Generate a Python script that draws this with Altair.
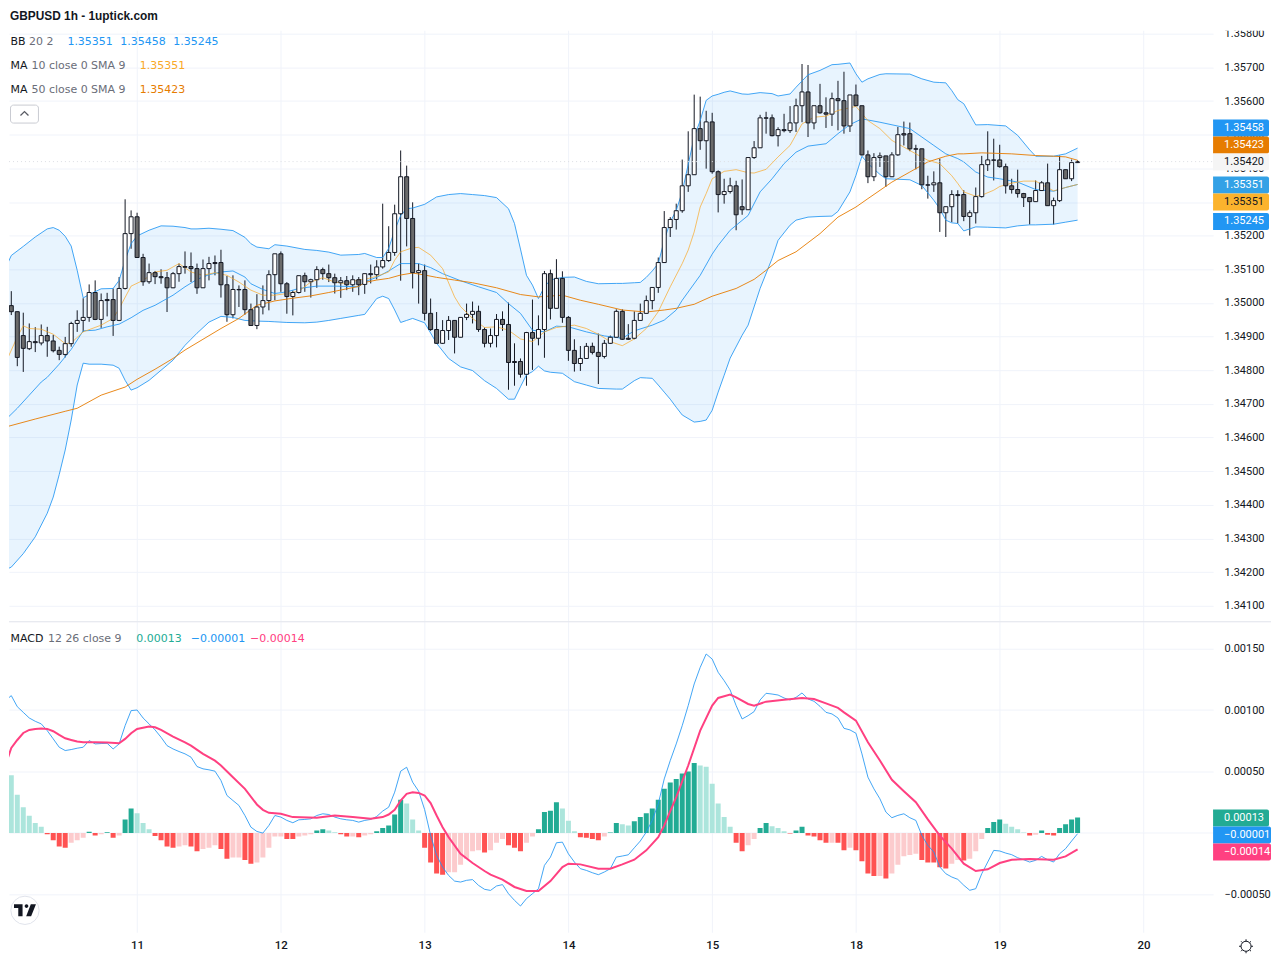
import altair as alt
import pandas as pd

# ---------- candles, prices in 1e-5 units, one row per hour ----------
opens = [
134950,134992,134974,134903,134864,134885,134881,134903,134887,134859,
134847,134879,134939,134948,134957,135031,134951,135010,135010,134948,
135043,135206,135256,135135,135063,135090,135078,135075,135045,135087,
135108,135108,135102,135045,135102,135120,135120,135054,134965,135040,
135040,134980,134933,134988,135007,135084,135146,135057,135019,135031,
135081,135063,135069,135099,135087,135075,135060,135066,135054,135069,
135055,135087,135084,135107,135126,135150,135265,135375,135251,135090,
135096,134969,134921,134880,134918,134948,134898,134957,134966,134975,
134921,134880,134903,134951,134936,134826,134826,134788,134912,134895,
134921,135087,134984,135073,134957,134859,134820,134835,134871,134853,
134841,134880,134898,134975,134895,134895,134948,134969,135007,135046,
135120,135224,135248,135274,135348,135381,135518,135482,135538,135390,
135322,135331,135348,135286,135277,135432,135461,135550,135550,135497,
135515,135512,135535,135586,135627,135535,135586,135565,135561,135607,
135601,135526,135618,135586,135440,135375,135432,135437,135375,135440,
135503,135503,135458,135458,135351,135351,135357,135268,135286,135322,
135322,135257,135268,135316,135411,135425,135425,135405,135348,135337,
135325,135313,135301,135334,135357,135289,135304,135396,135369,135417]
highs = [
135005,135035,134974,134971,134939,134928,134936,134929,134905,134870,
134899,134944,134978,135014,135055,135067,135028,135030,135043,135077,
135308,135275,135268,135146,135117,135095,135100,135092,135092,135117,
135153,135150,135117,135129,135137,135141,135158,135080,135082,135052,
135067,134998,135026,135052,135097,135146,135153,135062,135037,135081,
135090,135072,135109,135105,135114,135087,135077,135080,135082,135077,
135087,135114,135127,135295,135228,135292,135453,135408,135299,135117,
135114,135013,134973,134949,134961,134948,134957,134998,135004,134992,
134927,134924,134967,134975,135001,134880,134835,134914,135010,134963,
135095,135099,135130,135094,134961,134892,134872,134881,134882,134909,
134890,134903,134981,134981,134937,134975,134998,135022,135046,135135,
135273,135255,135295,135426,135510,135619,135613,135571,135565,135394,
135369,135372,135363,135367,135432,135481,135559,135568,135560,135522,
135562,135585,135607,135710,135707,135586,135651,135611,135625,135660,
135687,135618,135649,135586,135453,135445,135447,135437,135448,135523,
135539,135536,135470,135458,135378,135391,135429,135286,135335,135335,
135335,135275,135343,135437,135510,135488,135470,135414,135369,135396,
135327,135313,135364,135362,135414,135313,135438,135396,135426,135424]
lows = [
134917,134964,134812,134795,134860,134854,134874,134840,134853,134830,
134838,134870,134914,134914,134944,134949,134926,134960,134902,134946,
135040,135161,135135,135051,135057,135056,135057,134973,135044,135063,
135087,135062,135027,135045,135067,135082,135016,134944,134954,134988,
134965,134933,134922,134966,134978,135008,135033,134968,134963,135028,
135033,135016,135045,135069,135062,135028,135015,135038,135033,135023,
135027,135058,135070,135102,135122,135140,135066,135168,135043,134998,
134948,134917,134878,134878,134890,134850,134898,134949,134939,134914,
134868,134868,134868,134917,134742,134754,134778,134754,134801,134874,
134837,134951,134984,134941,134828,134796,134798,134835,134847,134759,
134835,134878,134898,134890,134890,134892,134948,134969,134981,135030,
135120,135196,135218,135268,135330,135381,135455,135399,135384,135269,
135295,135325,135216,135262,135277,135428,135461,135503,135495,135465,
135507,135505,135508,135537,135493,135516,135562,135520,135526,135513,
135503,135508,135586,135438,135356,135362,135404,135345,135374,135437,
135468,135451,135397,135338,135310,135330,135211,135196,135240,135236,
135243,135200,135236,135313,135392,135364,135402,135325,135325,135313,
135285,135233,135301,135333,135289,135233,135300,135369,135362,135416]
closes = [
134992,134974,134838,134865,134885,134882,134903,134887,134858,134847,
134879,134939,134948,134957,135031,134951,135007,135007,134948,135043,
135206,135256,135135,135063,135090,135078,135075,135045,135087,135108,
135106,135102,135045,135102,135117,135117,135054,134965,135040,135039,
134980,134933,134988,135007,135084,135146,135057,135019,135031,135081,
135063,135069,135099,135087,135075,135060,135066,135054,135069,135054,
135087,135084,135107,135126,135150,135265,135375,135251,135090,135096,
134969,134921,134880,134918,134948,134898,134957,134966,134975,134921,
134880,134903,134951,134936,134823,134823,134788,134912,134895,134921,
135087,134984,135073,134957,134859,134820,134835,134871,134853,134841,
134880,134898,134975,134892,134892,134948,134969,135007,135046,135120,
135224,135248,135274,135348,135381,135518,135482,135538,135390,135322,
135331,135348,135262,135277,135432,135461,135550,135549,135497,135515,
135512,135535,135586,135627,135535,135586,135565,135561,135607,135601,
135526,135618,135586,135440,135375,135432,135437,135375,135440,135500,
135499,135458,135457,135351,135350,135357,135268,135286,135322,135319,
135257,135268,135316,135411,135425,135424,135405,135348,135337,135325,
135313,135301,135334,135357,135289,135304,135396,135369,135417,135420]

# ---------- Bollinger bands ----------
bb_k = [0,1,3,5,7,8,9,10,11,12,13,14,16,18,19,20,21,22,24,26,28,30,31,32,34,36,38,40,41,42,44,45,47,50,52,54,56,59,
        60,62,63,64,65,66,67,68,70,72,74,76,78,80,82,84,85,86,87,88,89,90,91,93,95,97,99,102,103,105,106,107,108,109,
        110,111,112,113,115,116,117,118,119,120,121,123,124,126,128,129,131,132,134,136,138,139,141,142,143,144,146,147,
        151,153,155,156,157,158,159,160,162,164,167,169,171,172,175,177,179]
bb_upper = [135102,135141,135168,135196,135220,135224,135216,135198,135169,135097,135015,135025,135042,135043,135067,135127,135176,135199,135216,135229,135228,135224,135220,135220,135222,135219,135215,135195,135176,135166,135161,135173,135169,135159,135156,135151,135142,135144,
            135147,135135,135135,135162,135216,135260,135280,135282,135293,135315,135322,135325,135322,135319,135313,135280,135236,135160,135082,135053,135013,135048,135068,135076,135077,135064,135057,135058,135058,135060,135061,135076,135095,135117,
            135186,135241,135275,135330,135493,135542,135602,135615,135620,135626,135630,135621,135620,135625,135622,135615,135621,135641,135678,135691,135708,135709,135713,135681,135656,135666,135679,135681,
            135680,135666,135656,135655,135654,135631,135604,135592,135529,135530,135526,135498,135455,135436,135436,135443,135460]
bb_lower = [134207,134215,134255,134305,134375,134423,134490,134563,134652,134756,134821,134818,134818,134815,134806,134770,134741,134748,134770,134800,134830,134874,134892,134910,134943,134960,134957,134948,134947,134946,134945,134944,134942,134941,134943,134948,134954,134963,
            134966,135013,135020,135013,134979,134942,134948,134954,134941,134880,134835,134810,134799,134769,134746,134714,134714,134751,134786,134796,134812,134798,134794,134791,134766,134756,134746,134744,134744,134769,134778,134777,134776,134756,
            134735,134714,134690,134667,134646,134648,134652,134681,134735,134785,134836,134904,134934,135043,135132,135186,135231,135246,135255,135257,135258,135272,135330,135379,135436,135414,135382,135369,
            135366,135349,135305,135280,135246,135238,135236,135214,135226,135225,135223,135229,135232,135232,135234,135240,135246]
basis_k = [0,2,4,6,7,9,11,13,15,17,19,21,23,25,28,30,32,34,36,38,40,41,43,45,47,49,52,55,59,60,62,64,66,69,71,73,76,79,82,84,86,88,90,92,94,97,100,103,105,108,110,112,113,116,118,119,121,124,126,128,130,132,134,137,139,141,143,146,151,153,155,157,159,160,162,164,166,169,172,175,177,179]
basis = [134652,134687,134726,134765,134779,134818,134862,134917,134919,134929,134937,134956,134978,134993,135023,135048,135070,135084,135092,135095,135077,135057,135040,135028,135033,135043,135050,135050,135048,135063,135076,135095,135117,135117,135105,135087,135066,135048,135031,134998,134969,134919,134914,134931,134929,134914,134902,134895,134917,134934,134949,134979,135008,135082,135145,135171,135216,135260,135330,135369,135414,135448,135466,135473,135503,135530,135547,135537,135518,135493,135468,135443,135429,135419,135389,135374,135369,135359,135337,135332,135343,135352]

# ---------- moving averages ----------
ma10_k = [0,2,3,4,6,8,10,11,13,16,18,19,21,23,25,27,29,31,33,35,37,39,41,43,45,47,49,51,53,55,57,59,60,62,64,65,66,68,69,71,73,75,76,78,80,82,84,86,88,90,92,95,97,99,101,103,105,107,109,111,113,114,115,116,117,118,120,122,124,125,127,129,131,133,135,137,139,141,142,144,146,148,150,152,154,156,158,159,160,162,163,165,166,168,170,172,173,175,177,179]
ma10 = [134820,134899,134932,134924,134922,134907,134879,134881,134914,134934,134954,134983,135050,135067,135092,135097,135117,135092,135082,135090,135082,135062,135038,135023,135023,135028,135035,135062,135075,135062,135057,135069,135070,135079,135092,135127,135152,135164,135165,135142,135102,135018,134989,134954,134927,134929,134919,134893,134885,134914,134927,134934,134924,134907,134885,134873,134893,134924,134974,135048,135117,135157,135211,135285,135325,135369,135391,135396,135387,135386,135397,135434,135468,135532,135552,135555,135572,135580,135584,135542,135518,135483,135463,135443,135424,135414,135378,135355,135330,135317,135320,135335,135346,135356,135362,135362,135352,135333,135343,135352]
ma50_k = [0,5,10,12,16,20,22,25,28,30,33,36,39,42,45,48,51,54,57,59,60,62,64,66,68,70,72,75,78,82,86,89,93,96,99,103,107,110,112,115,118,122,125,127,129,132,136,139,142,144,148,151,154,157,159,160,163,168,172,175,177,179]
ma50 = [134631,134655,134678,134687,134726,134750,134773,134803,134835,134860,134892,134924,134954,134993,135006,135014,135021,135031,135042,135049,135061,135068,135073,135083,135089,135083,135076,135068,135060,135045,135025,135018,135023,135008,134996,134979,134973,134979,134984,134996,135020,135043,135070,135097,135126,135152,135206,135255,135285,135310,135359,135389,135419,135436,135443,135443,135446,135443,135438,135436,135434,135424]

# ---------- MACD, in 1e-5 units ----------
macd = [107.7,111.8,102.8,98.2,93.6,90.9,88.8,83.3,76.6,69.8,67.1,67.9,69,69.8,75.2,72.5,72.8,73,68.4,72.5,
        87.4,99.6,100.1,93.6,88.8,83.9,77.9,71.1,68.4,66.3,64.4,61.7,54.1,52.2,51.4,50.3,42.7,30.5,26.4,22.4,
        14.2,4.7,1.2,-0.1,6.1,14.2,12.9,10.2,8.3,10.7,11,11.5,14.2,15.6,15,12.9,11.5,10.7,10.2,8.8,
        10.2,11,13.4,17.8,21,33.2,50.3,53.5,41.3,34,19,-2,-18.3,-27.8,-34.6,-39.2,-40,-38.6,-38,-42.7,
        -45.9,-46.8,-43.2,-42.1,-49.5,-54.9,-59.5,-53.5,-49.5,-45.4,-26.4,-19.7,-8,-7.5,-17,-23.7,-29.1,-30.5,-32.4,-34,
        -31.8,-29.1,-19.7,-18.8,-17.8,-12.1,-6.6,0.7,10.2,23.7,44,58.9,72.5,87.4,103.7,121.3,134.8,145.7,141.6,130.8,
        124,116.4,103.7,92.8,95.5,98.8,108.3,113.7,113.1,112.3,109.9,108.3,110.4,114,109.1,107.2,103.1,98.2,96.9,93.6,
        85.2,83.9,81.2,64.4,45.4,35.9,27.8,17,12.4,14.3,15.6,12.4,10.2,-2,-10.1,-15.5,-27.7,-33.2,-35.9,-37.8,
        -42.6,-46.7,-45.4,-33.2,-23.7,-14.2,-14.7,-16.4,-17.7,-20.2,-21.8,-23.7,-22.3,-19.1,-21.8,-23.7,-16.9,-12.8,-6.6,-0.6]
signal_k = [0,1,2,3,4,5,6,7,8,9,10,11,12,13,15,17,19,20,21,22,24,25,26,28,30,31,33,35,36,38,40,42,43,44,46,48,52,55,58,61,63,64,65,66,67,68,69,70,
            71,72,73,74,76,78,80,81,83,85,87,89,91,93,94,96,99,101,103,105,107,109,110,112,114,116,118,119,121,122,124,125,127,130,133,135,137,139,140,
            142,144,146,148,150,152,154,156,158,160,162,164,166,168,171,175,177,179]
signal = [54.9,69.2,75.7,81.4,83.9,84.7,85,84.7,82.8,79.8,77.1,75.7,74.4,73.8,73.8,73.6,73,76.6,81.2,84.7,86.6,86,83.9,78.5,73.8,71.1,64.4,58.9,54.9,45.4,35.9,23.2,18.8,16.4,15.6,12.9,12.3,14.2,12.9,11.5,12.9,15,18.8,26.4,31.8,33.2,32.6,30.5,
          24.3,14.2,4.7,-3.4,-17,-24.5,-31,-34,-38,-44,-47.3,-47.3,-39.2,-27.8,-25,-25.6,-29.1,-29.1,-25.6,-21.8,-14.2,-3.4,6.1,29.1,54.9,83.3,103.7,109.9,112.6,110.4,105,103.7,106.9,108.5,109.9,109.1,105.5,101.8,98.2,
          91.5,73.9,59,43.3,34,25,11,-2.2,-12.8,-25,-31,-29.6,-24.5,-21.8,-21.2,-21.8,-19.1,-13.4]
hist = [52,47,31,21,14,8,5,-1,-6,-11,-12,-8,-6,-4,1,-2,-1,0.5,-4,-2,
        11,20,16,8,3,-2.5,-6,-11,-12,-11,-10,-11,-15,-13,-12,-10,-13,-21,-20,-20,
        -22,-25,-24,-20,-12,-3,-3,-5,-5,-3,-2,-1,2,3,2,0.5,-1,-3,-3,-3.5,
        -2,-1,1.4,4,6,15,27,24,11,2,-12,-24,-33,-34,-32,-32,-26,-21,-15,-14,
        -16,-14,-8,-5,-10,-12,-15,-8,-3,3,17,18,25,20,10,1.4,-3.5,-4,-5,-6,
        -3,0.3,8,7,6,9.5,13,16,20,27,36,41,44,48.5,50,57,55,54,40,24,
        13,5,-8,-15,-10,-5,4,8,5.5,4,1.4,-0.5,2,5,-2,-3,-6,-8,-8,-8,
        -14,-12,-14,-23,-33,-35,-35,-37,-33,-26,-19,-18,-17,-22,-24,-24,-28,-29,-25,-22,
        -22.5,-21,-15,-5,4,9,11,7.5,5,3,0.3,-2,-1.4,2,-1.4,-2,4,7,11,12.5]
hist_shade = list("ggggggg" "RRRR" "rrr" "G" "R" "r" "G" "R" "r" "GG" "ggg" "RRRR" "rr" "RR" "rrr" "RR" "rr" "RR" "rrrrr"
                  "RR" "rrr" "GG" "gg" "RR" "r" "R" "rr" "GGGGG" "ggg" "RRRR" "rrrrrr" "R" "rrr" "RRR" "rr" "GGGG" "ggg"
                  "RRRR" "r" "GG" "gg" "GGGGGGGGGGG" "gggggg" "RR" "rr" "GG" "ggg" "R" "GG" "RRRR" "r" "RR" "r" "RRRR" "r"
                  "R" "rrrrr" "RRRRR" "rr" "R" "rrr" "GGG" "gggg" "R" "r" "G" "RR" "GGGG")

# ---------- axes and tags ----------
price_ticks = [1.341,1.342,1.343,1.344,1.345,1.346,1.347,1.348,1.349,1.350,1.351,1.352,1.353,1.354,1.355,1.356,1.357,1.358]
macd_ticks = [0.0015,0.001,0.0005,0,-0.0005]
day_ticks = [22,46,70,94,118,142,166,190]
day_labels = [11,12,13,14,15,18,19,20]
last_price = 1.35420
price_tags = ["1.35458","1.35423","1.35420","1.35351","1.35351","1.35245"]
macd_tags = ["0.00013","\u22120.00001","\u22120.00014"]

# ---------- layout and style (pixels relative to each panel) ----------
W, H1, H2 = 1206, 613, 311
FONT = "Roboto"
LEG = "DejaVu Sans"
INK = "#131722"
GRAY = "#6a6d78"
GRID = "#f0f3fa"
BLUE, MA10C, MA50C, PINK = "#2196f3", "#f9a825", "#e67c00", "#ff4081"
price_tag_y = [119.5,136.5,153.5,176.5,193.5,213]
price_tag_fill = [BLUE,"#e67c00","#f5f5f5","#33a1e6","#fbb32d",BLUE]
price_tag_ink = ["white","white",INK,"white",INK,"white"]
macd_tag_y = [196.5,213.5,230.5]
macd_tag_fill = ["#22ab94",BLUE,PINK]
macd_tag_w = [56,58,58]

xs = alt.Scale(domain=[0.617,201.62], nice=False, zero=False, padding=0)
ys1 = alt.Scale(domain=[1.340555,1.358742], nice=False, zero=False, padding=0)
ys2 = alt.Scale(domain=[-0.000809,0.0017195], nice=False, zero=False, padding=0)
one = pd.DataFrame({"a":[0]})

def x_axis(labels):
    return alt.Axis(values=day_ticks, title=None, grid=True, gridColor=GRID, ticks=False, domain=False,
                    labels=labels, labelExpr=f"{day_labels}[(datum.value-22)/24]", labelFont=FONT, labelFontSize=11.5,
                    labelColor=INK, labelPadding=7, labelFontWeight=500)

def y_axis(ticks):
    return alt.Axis(values=ticks, orient="right", title=None, grid=True, gridColor=GRID, ticks=False, domain=False,
                    format=".5f", labelFont=FONT, labelFontSize=11, labelColor=INK, labelPadding=11,
                    labelOverlap=False, labelBound=False)

X1 = alt.X("k:Q", scale=xs, axis=x_axis(False))
X2 = alt.X("k:Q", scale=xs, axis=x_axis(True))
def Y1(field): return alt.Y(field + ":Q", scale=ys1, axis=y_axis(price_ticks))
def Y2(field): return alt.Y(field + ":Q", scale=ys2, axis=y_axis(macd_ticks))

def text(s, x, y, color=INK, size=11, weight=400, align="left", font=LEG):
    return alt.Chart(one).mark_text(text=s, align=align, baseline="middle", color=color, fontSize=size,
                                    fontWeight=weight, font=font).encode(x=alt.value(x), y=alt.value(y))

def tag(s, y, fill, ink, width=56):
    r = alt.Chart(one).mark_rect(fill=fill, cornerRadiusTopRight=2, cornerRadiusBottomRight=2).encode(
        x=alt.value(W), x2=alt.value(W + width), y=alt.value(y - 8.5), y2=alt.value(y + 8.5))
    return r + text(s, W + 11, y, color=ink, size=11, font=FONT)

def line(k, v, xe, ye, color, width=1, opacity=1.0):
    df = pd.DataFrame({"k":k, "v":[p / E5 for p in v]})
    return alt.Chart(df).mark_line(color=color, strokeWidth=width, opacity=opacity, clip=True).encode(x=xe, y=ye("v"))

# ---------- price panel ----------
E5 = 100000
candles = pd.DataFrame({"k":range(180), "o":[v/E5 for v in opens], "h":[v/E5 for v in highs],
                        "l":[v/E5 for v in lows], "c":[v/E5 for v in closes]})
candles["dir"] = ["up" if c >= o else "down" for o, c in zip(opens, closes)]
bands = pd.DataFrame({"k":bb_k, "u":[v/E5 for v in bb_upper], "d":[v/E5 for v in bb_lower]})

wicks = alt.Chart(candles).mark_rule(color=INK, strokeWidth=1, clip=True).encode(x=X1, y=Y1("h"), y2="l:Q")
bodies = alt.Chart(candles).mark_bar(size=4, stroke=INK, strokeWidth=1, clip=True).encode(
    x=X1, y=Y1("o"), y2="c:Q",
    fill=alt.Color("dir:N", scale=alt.Scale(domain=["up","down"], range=["#ffffff","#6a6a6a"]), legend=None))
band_fill = alt.Chart(bands).mark_area(color=BLUE, opacity=0.1, clip=True).encode(x=X1, y=Y1("u"), y2="d:Q")
last_line = alt.Chart(pd.DataFrame({"p":[last_price]})).mark_rule(color="#dcdee3", strokeDash=[1,3], strokeWidth=1).encode(
    x=alt.value(0), x2=alt.value(W), y=Y1("p"))
top_band = alt.Chart(one).mark_rect(fill="white").encode(x=alt.value(0), x2=alt.value(1264), y=alt.value(0), y2=alt.value(22))
button = alt.Chart(one).mark_rect(fill="white", stroke="#c9cbd2", cornerRadius=3).encode(
    x=alt.value(1.5), x2=alt.value(29.5), y=alt.value(96.5), y2=alt.value(114.5))
chevron = alt.Chart(one).mark_point(shape="M-1 0.5L0 -0.5L1 0.5", filled=False, stroke=INK, strokeWidth=1.3, size=64).encode(
    x=alt.value(15.5), y=alt.value(105))

price_layers = [band_fill, wicks,
    line(bb_k, bb_upper, X1, Y1, BLUE, opacity=0.85),
    line(bb_k, bb_lower, X1, Y1, BLUE, opacity=0.85),
    line(basis_k, basis, X1, Y1, BLUE, opacity=0.85),
    line(ma10_k, ma10, X1, Y1, MA10C, opacity=0.7),
    line(ma50_k, ma50, X1, Y1, MA50C, opacity=0.9),
    bodies, last_line, top_band,
    text("GBPUSD 1h - 1uptick.com", 1, 7.5, size=11.9, weight=700, font="Liberation Sans"),
    text("BB", 1.5, 33), text("20 2", 20, 33, color=GRAY),
    text("1.35351", 58.5, 33, color=BLUE), text("1.35458", 111.5, 33, color=BLUE), text("1.35245", 164.5, 33, color=BLUE),
    text("MA", 1.5, 57), text("10 close 0 SMA 9", 22.5, 57, color=GRAY), text("1.35351", 131, 57, color=MA10C),
    text("MA", 1.5, 81), text("50 close 0 SMA 9", 22.5, 81, color=GRAY), text("1.35423", 131, 81, color=MA50C),
    button, chevron]
for s, y, f, i in zip(price_tags, price_tag_y, price_tag_fill, price_tag_ink):
    price_layers.append(tag(s, y, f, i))
price_panel = alt.layer(*price_layers).properties(width=W, height=H1)

# ---------- MACD panel ----------
hdf = pd.DataFrame({"k":range(180), "v":[v/E5 for v in hist], "zero":[0]*180, "s":hist_shade})
bars = alt.Chart(hdf).mark_bar(size=5, clip=True).encode(
    x=X2, y=Y2("v"), y2="zero:Q",
    color=alt.Color("s:N", scale=alt.Scale(domain=["G","g","R","r"], range=["#22ab94","#ace5dc","#ff5252","#fccbcd"]), legend=None))
separator = alt.Chart(one).mark_rule(color="#e0e3eb", strokeWidth=1).encode(x=alt.value(0), x2=alt.value(1264), y=alt.value(0))
logo_disc = alt.Chart(one).mark_point(shape="circle", filled=True, fill="white", stroke="#e0e3eb", strokeWidth=1, size=804, opacity=1).encode(
    x=alt.value(16), y=alt.value(289))
logo = alt.Chart(one).mark_point(
    shape="M-1 -0.55L-0.22 -0.55L-0.22 0.55L-0.61 0.55L-0.61 -0.22L-1 -0.22Z"
          "M0.31 -0.39A0.167 0.167 0 1 1 -0.03 -0.39A0.167 0.167 0 1 1 0.31 -0.39Z"
          "M0.11 0.55L0.56 0.55L1 -0.55L0.53 -0.55Z",
    filled=True, fill=INK, opacity=1, size=484, strokeWidth=0).encode(x=alt.value(16), y=alt.value(289))
gear = alt.Chart(one).mark_point(
    shape="M0.72 0A0.72 0.72 0 1 1 -0.72 0A0.72 0.72 0 1 1 0.72 0Z"
          "M0 -0.72L0 -1M0 0.72L0 1M0.72 0L1 0M-0.72 0L-1 0"
          "M0.51 -0.51L0.71 -0.71M-0.51 -0.51L-0.71 -0.71M0.51 0.51L0.71 0.71M-0.51 0.51L-0.71 0.71",
    filled=False, stroke=INK, strokeWidth=1, size=196, opacity=1).encode(x=alt.value(1239), y=alt.value(325))

macd_layers = [bars,
    line(list(range(180)), macd, X2, Y2, BLUE, opacity=0.85),
    line(signal_k, signal, X2, Y2, PINK, width=2),
    separator,
    text("MACD", 1.5, 17.5), text("12 26 close 9", 39, 17.5, color=GRAY),
    text("0.00013", 127.5, 17.5, color="#22ab94"), text("\u22120.00001", 182, 17.5, color=BLUE), text("\u22120.00014", 241.5, 17.5, color=PINK),
    logo_disc, logo, gear]
for s, y, f, w in zip(macd_tags, macd_tag_y, macd_tag_fill, macd_tag_w):
    macd_layers.append(tag(s, y, f, "white", w))
macd_panel = alt.layer(*macd_layers).properties(width=W, height=H2)

chart = alt.vconcat(price_panel, macd_panel, spacing=0).properties(
    padding=0, background="white").configure_view(stroke=None)

chart.save("out.html", embed_options={"renderer": "svg", "actions": False})
